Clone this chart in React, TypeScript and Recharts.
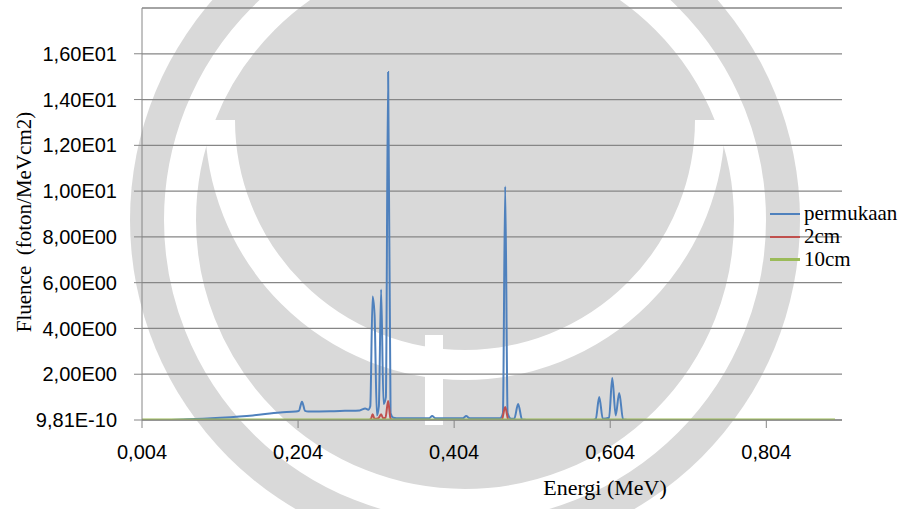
import { LineChart, Line, XAxis, YAxis, CartesianGrid } from "recharts";

// energi (MeV) dan fluence per kedalaman
const permukaanEnergi = [
  0.004, 0.03, 0.062, 0.104, 0.146, 0.181, 0.201, 0.205, 0.209, 0.213, 0.217, 0.245, 0.264, 0.283,
  0.29, 0.294, 0.2965, 0.2995, 0.302, 0.305, 0.3075, 0.3104, 0.3135, 0.3165, 0.3194, 0.3225, 0.326,
  0.33, 0.372, 0.3758, 0.38, 0.415, 0.4194, 0.424, 0.463, 0.4665, 0.4694, 0.4725, 0.477, 0.481,
  0.486, 0.491, 0.497, 0.582, 0.5855, 0.5899, 0.5945, 0.6025, 0.6066, 0.611, 0.6155, 0.6205, 0.626,
  0.892,
];
const permukaanFluence = [
  0, 0, 0.03, 0.1, 0.2, 0.33, 0.37, 0.4, 0.8, 0.4, 0.37, 0.38, 0.4, 0.42,
  0.5, 0.45, 0.6, 5.4, 4.6, 0.2, 0.6, 5.7, 0.7, 1.0, 15.2, 0.3, 0.1,
  0.08, 0.08, 0.17, 0.08, 0.08, 0.17, 0.08, 0.08, 0.3, 10.2, 0.3, 0.05, 0.05,
  0.7, 0.02, 0, 0, 0.05, 1.0, 0.05, 0.1, 1.83, 0.2, 1.18, 0.02, 0,
  0,
];

const cm2Energi = [
  0.004, 0.295, 0.2975, 0.2995, 0.302, 0.307, 0.3104, 0.313, 0.316, 0.3194, 0.3225, 0.326, 0.465,
  0.4694, 0.4735, 0.892,
];
const cm2Fluence = [0, 0, 0.05, 0.25, 0.05, 0.08, 0.25, 0.08, 0.1, 0.83, 0.05, 0, 0, 0.57, 0, 0];

const cm10Energi = [0.004, 0.204, 0.404, 0.604, 0.804, 0.892];
const cm10Fluence = [0, 0, 0, 0, 0, 0];

const energiTicks = [0.004, 0.204, 0.404, 0.604, 0.804];
const fluenceTicks = [0, 2, 4, 6, 8, 10, 12, 14, 16];

const toPoints = (xs: number[], ys: number[]) => xs.map((e, i) => ({ e, v: ys[i] }));

const series = [
  { name: "permukaan", color: "#4F81BD", width: 2, data: toPoints(permukaanEnergi, permukaanFluence) },
  { name: "2cm", color: "#C0504D", width: 2, data: toPoints(cm2Energi, cm2Fluence) },
  { name: "10cm", color: "#9BBB59", width: 3, data: toPoints(cm10Energi, cm10Fluence) },
];

const fmtFluence = (v: number) => {
  if (v === 0) return "9,81E-10";
  const exp = Math.floor(Math.log10(v));
  const m = v / Math.pow(10, exp);
  return m.toFixed(2).replace(".", ",") + "E" + String(exp).padStart(2, "0");
};

const fmtEnergi = (v: number) => v.toFixed(3).replace(".", ",");

const serif = "'Liberation Serif', 'Times New Roman', serif";
const sans = "'Liberation Sans', Arial, sans-serif";

const YTitle = () => (
  <text
    x={24}
    y={222}
    transform="rotate(-90 24 222)"
    textAnchor="middle"
    dominantBaseline="central"
    fontFamily={serif}
    fontSize={21}
    fill="#000"
  >
    Fluence{"\u00a0 "}(foton/MeVcm2)
  </text>
);

const XTitle = () => (
  <text x={605} y={487} textAnchor="middle" dominantBaseline="central" fontFamily={serif} fontSize={22} fill="#000">
    Energi (MeV)
  </text>
);

// watermark logo di latar belakang (perkiraan kasar)
function Watermark() {
  return (
    <svg width={914} height={509} style={{ position: "absolute", left: 0, top: 0 }}>
      <circle cx={465} cy={220} r={335} fill="#d9d9d9" />
      <circle cx={465} cy={220} r={285} fill="none" stroke="#fff" strokeWidth={32} />
      <path d="M 220 120 A 245 245 0 0 0 710 120" fill="none" stroke="#fff" strokeWidth={30} />
      <rect x={425} y={335} width={18} height={90} fill="#fff" />
    </svg>
  );
}

export default function App() {
  return (
    <div style={{ position: "absolute", left: 0, top: 0, width: 914, height: 509, background: "#fff" }}>
      <Watermark />
      <div style={{ position: "absolute", left: 0, top: 0 }}>
        <LineChart width={914} height={509} margin={{ top: 8, right: 72, left: 0, bottom: 0 }}>
          <CartesianGrid vertical={false} stroke="#868686" strokeWidth={1.3} />
          <XAxis
            type="number"
            dataKey="e"
            domain={[0.004, 0.901]}
            ticks={energiTicks}
            tickFormatter={fmtEnergi}
            allowDataOverflow
            height={89}
            tickSize={8}
            tickMargin={17}
            stroke="#868686"
            tick={{ fontSize: 20, fontFamily: sans, fill: "#000" }}
            label={<XTitle />}
          />
          <YAxis
            type="number"
            domain={[0, 18]}
            ticks={fluenceTicks}
            tickFormatter={fmtFluence}
            allowDataOverflow
            width={142}
            tickSize={8}
            tickMargin={17}
            stroke="#868686"
            tick={{ fontSize: 20, fontFamily: sans, fill: "#000" }}
            label={<YTitle />}
          />
          {series.map((s) => (
            <Line
              key={s.name}
              data={s.data}
              dataKey="v"
              name={s.name}
              type="monotone"
              stroke={s.color}
              strokeWidth={s.width}
              dot={false}
              activeDot={false}
              isAnimationActive={false}
            />
          ))}
        </LineChart>
      </div>
      <div style={{ position: "absolute", left: 770, top: 202, fontFamily: serif, fontSize: 21, lineHeight: "23px" }}>
        {series.map((s) => (
          <div key={s.name} style={{ display: "flex", alignItems: "center", height: 23 }}>
            <span style={{ display: "inline-block", width: 30, height: s.width, background: s.color, marginRight: 4 }} />
            <span>{s.name}</span>
          </div>
        ))}
      </div>
    </div>
  );
}
